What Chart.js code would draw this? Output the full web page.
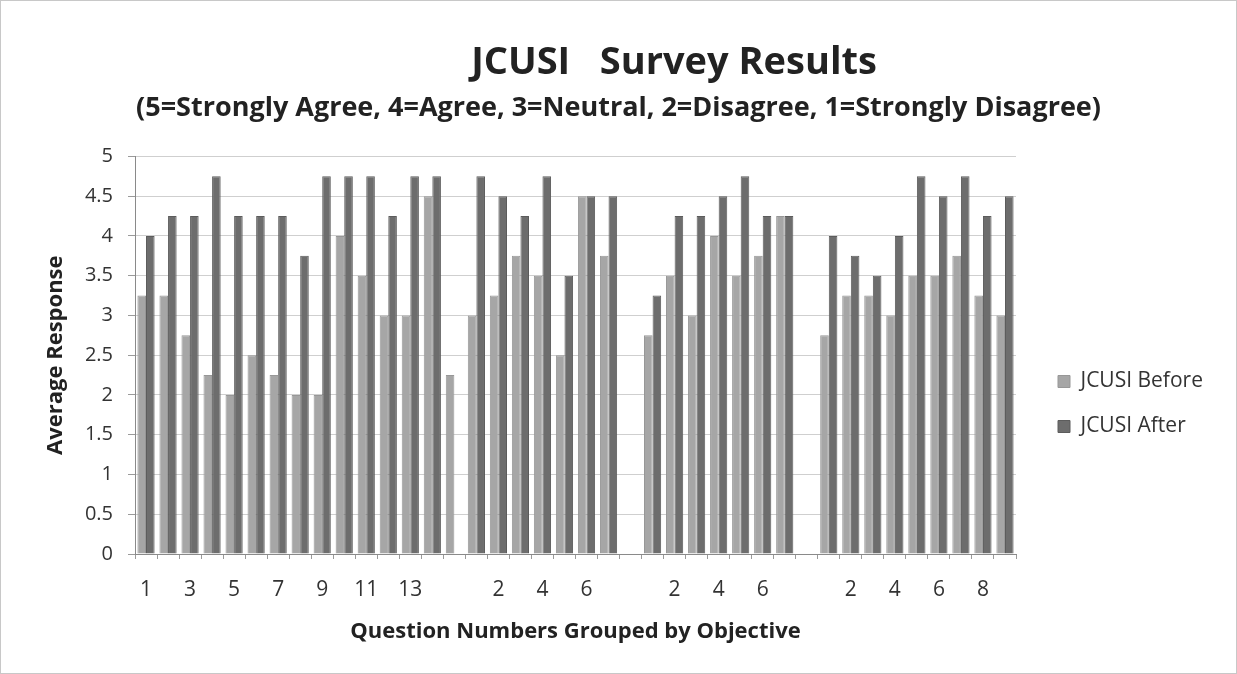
<!DOCTYPE html>
<html>
<head>
<meta charset="utf-8">
<script src="https://cdn.jsdelivr.net/npm/chart.js@4.4.1/dist/chart.umd.min.js"></script>
<style>
  html, body { margin: 0; padding: 0; background: #ffffff; }
  #wrap { position: relative; width: 1237px; height: 674px; box-sizing: border-box; border: 1px solid #c8c8c8; background: #fff; }
  canvas { display: block; }
</style>
</head>
<body>
<div id="wrap"><canvas id="c" width="1235" height="672"></canvas></div>
<script>
// Category labels: four objective groups separated by blank categories
const categories = [
  "1","2","3","4","5","6","7","8","9","10","11","12","13","14",
  "",
  "1","2","3","4","5","6","7",
  "",
  "1","2","3","4","5","6","7",
  "",
  "1","2","3","4","5","6","7","8","9"
];
const beforeValues = [
  3.25, 3.25, 2.75, 2.25, 2.0, 2.5, 2.25, 2.0, 2.0, 4.0, 3.5, 3.0, 3.0, 4.5,
  2.25,
  3.0, 3.25, 3.75, 3.5, 2.5, 4.5, 3.75,
  null,
  2.75, 3.5, 3.0, 4.0, 3.5, 3.75, 4.25,
  null,
  2.75, 3.25, 3.25, 3.0, 3.5, 3.5, 3.75, 3.25, 3.0
];
const afterValues = [
  4.0, 4.25, 4.25, 4.75, 4.25, 4.25, 4.25, 3.75, 4.75, 4.75, 4.75, 4.25, 4.75, 4.75,
  null,
  4.75, 4.5, 4.25, 4.75, 3.5, 4.5, 4.5,
  null,
  3.25, 4.25, 4.25, 4.5, 4.75, 4.25, 4.25,
  null,
  4.0, 3.75, 3.5, 4.0, 4.75, 4.5, 4.75, 4.25, 4.5
];
const seriesNames = ["JCUSI Before", "JCUSI After"];
const titleText = "JCUSI   Survey Results";
const subtitleText = "(5=Strongly Agree, 4=Agree, 3=Neutral, 2=Disagree, 1=Strongly Disagree)";
const yAxisTitle = "Average Response";
const xAxisTitle = "Question Numbers Grouped by Objective";

const FONT = "'Open Sans', Lato, sans-serif";
const LEGEND_W = 220;
const LEGEND_SHIFT_X = 18;
const LEGEND_SHIFT_Y = 67;

const titlePlugin = {
  id: 'mainTitle',
  afterDraw(chart) {
    const ctx = chart.ctx;
    ctx.save();
    ctx.font = "bold 38px " + FONT;
    ctx.fillStyle = "#222222";
    ctx.textAlign = "center";
    ctx.textBaseline = "middle";
    ctx.fillText(titleText, 673, 62);
    ctx.restore();
  }
};

const legendTweak = {
  id: 'legendTweak',
  beforeLayout(chart) {
    const lg = chart.legend;
    if (lg && !lg.__patched) {
      const origFit = lg.fit.bind(lg);
      lg.fit = function () { origFit(); this.width = LEGEND_W; };
      lg.__patched = true;
    }
  },
  afterLayout(chart) {
    const lg = chart.legend;
    if (lg) {
      lg.left += LEGEND_SHIFT_X; lg.right += LEGEND_SHIFT_X;
      lg.top += LEGEND_SHIFT_Y; lg.bottom += LEGEND_SHIFT_Y;
    }
  }
};

new Chart(document.getElementById('c'), {
  type: 'bar',
  data: {
    labels: categories,
    datasets: [
      { label: seriesNames[0], data: beforeValues, backgroundColor: '#a6a6a6', borderColor: '#979797', borderWidth: 1 },
      { label: seriesNames[1], data: afterValues, backgroundColor: '#6d6d6d', borderColor: '#5c5c5c', borderWidth: 1 }
    ]
  },
  plugins: [titlePlugin, legendTweak],
  options: {
    responsive: false,
    animation: false,
    devicePixelRatio: 1,
    layout: { padding: { top: 0, right: 0, bottom: 0, left: 0 } },
    datasets: { bar: { categoryPercentage: 0.78, barPercentage: 1.0 } },
    plugins: {
      title: { display: false },
      subtitle: {
        display: true,
        text: subtitleText,
        color: '#222222',
        font: { family: FONT, size: 27, weight: 'bold' },
        padding: { top: 91, bottom: 32 }
      },
      legend: {
        position: 'right',
        align: 'center',
        labels: {
          color: '#333333',
          font: { family: FONT, size: 21 },
          boxWidth: 12,
          boxHeight: 12,
          padding: 24
        }
      },
      tooltip: { enabled: false }
    },
    scales: {
      x: {
        offset: true,
        afterFit: function (s) { s.height = 119; },
        grid: { display: true, drawOnChartArea: false, drawTicks: true, tickLength: 5, color: '#9a9a9a', offset: true },
        border: { display: true, color: '#8a8a8a' },
        ticks: {
          autoSkip: false,
          maxRotation: 0,
          color: '#333333',
          font: { family: FONT, size: 21 },
          padding: 18,
          callback: function (v, i) { return i % 2 === 0 ? categories[i] : ''; }
        },
        title: {
          display: true,
          text: xAxisTitle,
          color: '#222222',
          font: { family: FONT, size: 22, weight: 'bold' },
          padding: { top: 4, bottom: 28 }
        }
      },
      y: {
        min: 0,
        max: 5,
        afterFit: function (s) { s.width = 134; },
        ticks: {
          stepSize: 0.5,
          color: '#333333',
          font: { family: FONT, size: 20 },
          padding: 15,
          callback: function (v) { return String(v); }
        },
        grid: { color: '#cfcfcf', tickLength: 7, tickColor: '#9a9a9a' },
        border: { display: true, color: '#8a8a8a' },
        title: {
          display: true,
          text: yAxisTitle,
          color: '#222222',
          font: { family: FONT, size: 22, weight: 'bold' },
          padding: { top: 42, bottom: 0 }
        }
      }
    }
  }
});
</script>
</body>
</html>
